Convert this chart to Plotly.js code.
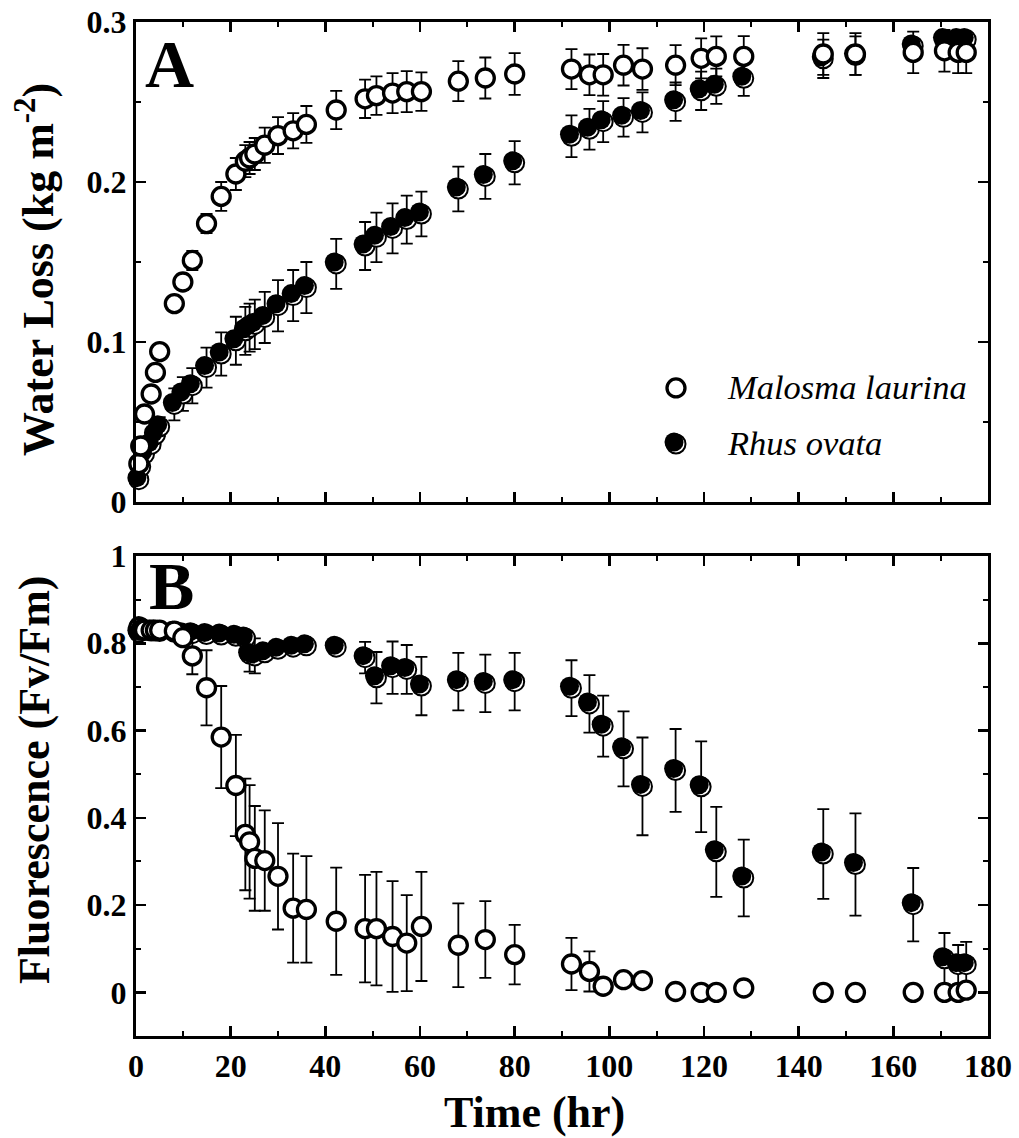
<!DOCTYPE html>
<html>
<head>
<meta charset="utf-8">
<script src="https://cdn.plot.ly/plotly-3.0.1.min.js"></script>
<style>html,body{margin:0;padding:0;background:#fff;}#chart{width:1019px;height:1138px;}</style>
</head>
<body>
<div id="chart"></div>
<script>
// ---- data ----
const hours = [0.6, 1.0, 1.8, 3.2, 4.1, 5.0, 8.1, 9.9, 11.9, 14.9, 18.0, 21.1, 23.1, 24.0, 25.1, 27.2, 30.0, 33.2, 36.0, 42.3,
  48.4, 50.8, 54.2, 57.2, 60.3, 68.1, 73.8, 80.0, 92.0, 95.8, 98.7, 103.0, 107.0, 114.0, 119.4, 122.6, 128.4, 145.2, 152.0, 164.2,
  170.8, 173.7, 175.4];

const lossMalosma = [0.024, 0.035, 0.055, 0.0675, 0.081, 0.094, 0.124, 0.1375, 0.151, 0.174, 0.191, 0.205, 0.213, 0.215, 0.2175, 0.223, 0.229, 0.232, 0.236, 0.245,
  0.252, 0.254, 0.2556, 0.2565, 0.2565, 0.263, 0.265, 0.2675, 0.2706, 0.267, 0.267, 0.273, 0.2706, 0.273, 0.2773, 0.2785, 0.2785, 0.28, 0.28, 0.281,
  0.282, 0.281, 0.281];
const lossMalosmaErr = [0.003, 0.003, 0.003, 0.003, 0.003, 0.003, 0.004, 0.005, 0.006, 0.006, 0.009, 0.010, 0.010, 0.010, 0.010, 0.011, 0.0115, 0.011, 0.0115, 0.012,
  0.012, 0.012, 0.0125, 0.0128, 0.012, 0.0125, 0.0128, 0.013, 0.0125, 0.0127, 0.013, 0.0127, 0.013, 0.0125, 0.0125, 0.0125, 0.0127, 0.013, 0.013, 0.013,
  0.013, 0.013, 0.013];

const lossRhus = [0.014, 0.022, 0.030, 0.036, 0.042, 0.047, 0.061, 0.0675, 0.0727, 0.084, 0.0925, 0.1008, 0.107, 0.109, 0.111, 0.1154, 0.1227, 0.129, 0.134, 0.1488,
  0.160, 0.1654, 0.171, 0.1765, 0.180, 0.1956, 0.2035, 0.212, 0.2286, 0.233, 0.2377, 0.2404, 0.2435, 0.2502, 0.257, 0.2598, 0.2648, 0.277, 0.279, 0.285,
  0.289, 0.289, 0.289];
const lossRhusErr = [0.003, 0.003, 0.004, 0.005, 0.005, 0.006, 0.010, 0.0105, 0.011, 0.0125, 0.0135, 0.015, 0.015, 0.015, 0.0155, 0.016, 0.016, 0.016, 0.016, 0.0156,
  0.015, 0.0155, 0.0156, 0.015, 0.014, 0.014, 0.014, 0.0135, 0.013, 0.0127, 0.0128, 0.012, 0.0125, 0.012, 0.012, 0.011, 0.011, 0.012, 0.012, 0.004,
  0.004, 0.004, 0.004];

const fluorMalosma = [0.836, 0.830, 0.830, 0.830, 0.830, 0.830, 0.828, 0.8127, 0.771, 0.698, 0.585, 0.474, 0.362, 0.345, 0.307, 0.302, 0.266, 0.193, 0.190, 0.163,
  0.146, 0.146, 0.128, 0.113, 0.151, 0.108, 0.121, 0.0865, 0.065, 0.048, 0.014, 0.029, 0.027, 0.002, 0.0, 0.0, 0.010, 0.0, 0.0, 0.0,
  0.0, 0.0, 0.005];
const fluorMalosmaErr = [0.005, 0.005, 0.005, 0.005, 0.005, 0.005, 0.010, 0.015, 0.042, 0.086, 0.117, 0.116, 0.128, 0.130, 0.120, 0.115, 0.122, 0.125, 0.122, 0.123,
  0.123, 0.130, 0.127, 0.110, 0.125, 0.096, 0.088, 0.068, 0.060, 0.046, 0.010, 0.010, 0.010, 0.005, 0.005, 0.005, 0.005, 0.005, 0.005, 0.005,
  0.005, 0.005, 0.005];

const fluorRhus = [0.825, 0.836, 0.830, 0.828, 0.828, 0.827, 0.825, 0.822, 0.822, 0.820, 0.819, 0.816, 0.812, 0.775, 0.771, 0.778, 0.786, 0.791, 0.794, 0.791,
  0.767, 0.721, 0.744, 0.740, 0.702, 0.712, 0.708, 0.712, 0.697, 0.661, 0.610, 0.558, 0.472, 0.5085, 0.471, 0.322, 0.262, 0.317, 0.293, 0.201,
  0.077, 0.0635, 0.0635];
const fluorRhusErr = [0.005, 0.005, 0.005, 0.005, 0.005, 0.005, 0.008, 0.010, 0.010, 0.010, 0.010, 0.012, 0.015, 0.040, 0.040, 0.015, 0.012, 0.012, 0.012, 0.012,
  0.036, 0.059, 0.060, 0.056, 0.067, 0.066, 0.066, 0.066, 0.064, 0.066, 0.070, 0.086, 0.112, 0.095, 0.104, 0.103, 0.088, 0.103, 0.117, 0.084,
  0.059, 0.045, 0.052];

const xTicks = [0, 20, 40, 60, 80, 100, 120, 140, 160, 180];
const xTickText = ['0', '20', '40', '60', '80', '100', '120', '140', '160', '180'];
const lossTicks = [0, 0.1, 0.2, 0.3];
const lossTickText = ['0', '0.1', '0.2', '0.3'];
const fluorTicks = [0, 0.2, 0.4, 0.6, 0.8, 1];
const fluorTickText = ['0', '0.2', '0.4', '0.6', '0.8', '1'];

const speciesNames = ['Malosma laurina', 'Rhus ovata'];

// ---- styling ----
const FONT = 'Liberation Serif, Times New Roman, serif';
const tickFont = {family: FONT, size: 32, color: '#000', weight: 'bold'};
const errStyle = {type: 'data', visible: true, color: '#000', thickness: 1.8, width: 6};
const openMarker = {symbol: 'circle', size: 18, color: '#fff', line: {color: '#000', width: 3.3}};
const ringMarker = {symbol: 'circle', size: 19, color: '#fff', line: {color: '#000', width: 2}};
const diskMarker = {symbol: 'circle', size: 19, color: '#000', line: {width: 0}};

// pixel scale of the plotting area (852 x 480 px panels)
const pxPerHour = 852 / 180;
const dx = 2 / pxPerHour;          // 2 px shift for the shaded (filled) disk
const dyLoss = 2 / (480 / 0.3);
const dyFluor = 2 / (480 / 1.1);

function pts(x, y, err, marker, xa, ya, withErr) {
  const t = {type: 'scatter', mode: 'markers', x: x, y: y, xaxis: xa, yaxis: ya,
    marker: marker, cliponaxis: false, hoverinfo: 'skip', showlegend: false};
  if (withErr) t.error_y = Object.assign({array: err}, errStyle);
  return t;
}

const data = [
  // bottom panel: fluorescence (Rhus ring, shifted Rhus disk, then Malosma on top)
  pts(hours, fluorRhus, fluorRhusErr, ringMarker, 'x', 'y', true),
  pts(hours, fluorRhus, null, diskMarker, 'x3', 'y3', false),
  pts(hours, fluorMalosma, fluorMalosmaErr, openMarker, 'x5', 'y5', true),
  // top panel: water loss
  pts(hours, lossRhus, lossRhusErr, ringMarker, 'x2', 'y2', true),
  pts(hours, lossRhus, null, diskMarker, 'x4', 'y4', false),
  pts(hours, lossMalosma, lossMalosmaErr, openMarker, 'x6', 'y6', true)
];

function axisBase(extra) {
  return Object.assign({
    ticks: 'inside', ticklen: 10, tickwidth: 2.5, tickcolor: '#000',
    showline: true, linewidth: 3, linecolor: '#000', mirror: 'allticks',
    showgrid: false, zeroline: false, tickfont: tickFont, fixedrange: true
  }, extra);
}

const TOP_DOMAIN = [0.5266, 1];
const BOT_DOMAIN = [0, 0.4734];

const layout = {
  width: 1019, height: 1138,
  margin: {l: 136, r: 31, t: 22, b: 102, pad: 0},
  paper_bgcolor: '#fff', plot_bgcolor: 'rgba(0,0,0,0)',
  font: {family: FONT, color: '#000'},
  showlegend: false,
  xaxis: axisBase({domain: [0, 1], anchor: 'y', range: [0, 180], tickvals: xTicks, ticktext: xTickText,
    minor: {dtick: 10, tick0: 0, ticks: 'inside', ticklen: 5, tickwidth: 2, tickcolor: '#000'}}),
  yaxis: axisBase({domain: BOT_DOMAIN, anchor: 'x', range: [-0.1, 1.0], tickvals: fluorTicks, ticktext: fluorTickText,
    minor: {dtick: 0.1, tick0: 0, ticks: 'inside', ticklen: 5, tickwidth: 2, tickcolor: '#000'}}),
  xaxis2: axisBase({domain: [0, 1], anchor: 'y2', range: [0, 180], tickvals: xTicks, showticklabels: false,
    minor: {dtick: 10, tick0: 0, ticks: 'inside', ticklen: 5, tickwidth: 2, tickcolor: '#000'}}),
  yaxis2: axisBase({domain: TOP_DOMAIN, anchor: 'x2', range: [0, 0.3], tickvals: lossTicks, ticktext: lossTickText,
    minor: {dtick: 0.05, tick0: 0, ticks: 'inside', ticklen: 5, tickwidth: 2, tickcolor: '#000'}}),
  xaxis3: {overlaying: 'x', range: [dx, 180 + dx], visible: false, fixedrange: true},
  yaxis3: {overlaying: 'y', range: [-0.1 - dyFluor, 1.0 - dyFluor], visible: false, fixedrange: true},
  xaxis4: {overlaying: 'x2', range: [dx, 180 + dx], visible: false, fixedrange: true},
  yaxis4: {overlaying: 'y2', range: [-dyLoss, 0.3 - dyLoss], visible: false, fixedrange: true},
  xaxis5: {overlaying: 'x', range: [0, 180], visible: false, fixedrange: true},
  yaxis5: {overlaying: 'y', range: [-0.1, 1.0], visible: false, fixedrange: true},
  xaxis6: {overlaying: 'x2', range: [0, 180], visible: false, fixedrange: true},
  yaxis6: {overlaying: 'y2', range: [0, 0.3], visible: false, fixedrange: true},
  annotations: [
    {text: 'Water Loss (kg m<sup>-2</sup>)', xref: 'paper', yref: 'paper', x: -0.1185, y: 0.7554,
      xanchor: 'center', yanchor: 'middle', textangle: -90, showarrow: false,
      font: {family: FONT, size: 44, weight: 'bold', color: '#000'}},
    {text: 'Fluorescence (Fv/Fm)', xref: 'paper', yref: 'paper', x: -0.1185, y: 0.2525,
      xanchor: 'center', yanchor: 'middle', textangle: -90, showarrow: false,
      font: {family: FONT, size: 44, weight: 'bold', color: '#000'}},
    {text: 'Time (hr)', xref: 'paper', yref: 'paper', x: 0.4683, y: -0.075,
      xanchor: 'center', yanchor: 'middle', showarrow: false,
      font: {family: FONT, size: 44, weight: 'bold', color: '#000'}},
    {text: 'A', xref: 'paper', yref: 'paper', x: 0.0399, y: 0.9586, xanchor: 'center', yanchor: 'middle',
      showarrow: false, font: {family: FONT, size: 68, weight: 'bold', color: '#000'}},
    {text: 'B', xref: 'paper', yref: 'paper', x: 0.0411, y: 0.4438, xanchor: 'center', yanchor: 'middle',
      showarrow: false, font: {family: FONT, size: 68, weight: 'bold', color: '#000'}},
    {text: speciesNames[0], xref: 'paper', yref: 'paper', x: 0.6915, y: 0.640, xanchor: 'left', yanchor: 'middle',
      showarrow: false, font: {family: FONT, size: 34.5, style: 'italic', color: '#000'}},
    {text: speciesNames[1], xref: 'paper', yref: 'paper', x: 0.6915, y: 0.5848, xanchor: 'left', yanchor: 'middle',
      showarrow: false, font: {family: FONT, size: 34.5, style: 'italic', color: '#000'}}
  ],
  shapes: [
    // legend symbols
    {type: 'circle', xref: 'paper', yref: 'paper', xsizemode: 'pixel', ysizemode: 'pixel',
      xanchor: 0.6338, yanchor: 0.6391, x0: -9, x1: 9, y0: -9, y1: 9,
      fillcolor: '#fff', line: {color: '#000', width: 3.3}},
    {type: 'circle', xref: 'paper', yref: 'paper', xsizemode: 'pixel', ysizemode: 'pixel',
      xanchor: 0.6338, yanchor: 0.5838, x0: -9.5, x1: 9.5, y0: -9.5, y1: 9.5,
      fillcolor: '#fff', line: {color: '#000', width: 2}},
    {type: 'circle', xref: 'paper', yref: 'paper', xsizemode: 'pixel', ysizemode: 'pixel',
      xanchor: 0.6338, yanchor: 0.5838, x0: -11.5, x1: 7.5, y0: -7.5, y1: 11.5,
      fillcolor: '#000', line: {width: 0}}
  ]
};

Plotly.newPlot('chart', data, layout, {displayModeBar: false, staticPlot: true});
</script>
</body>
</html>
